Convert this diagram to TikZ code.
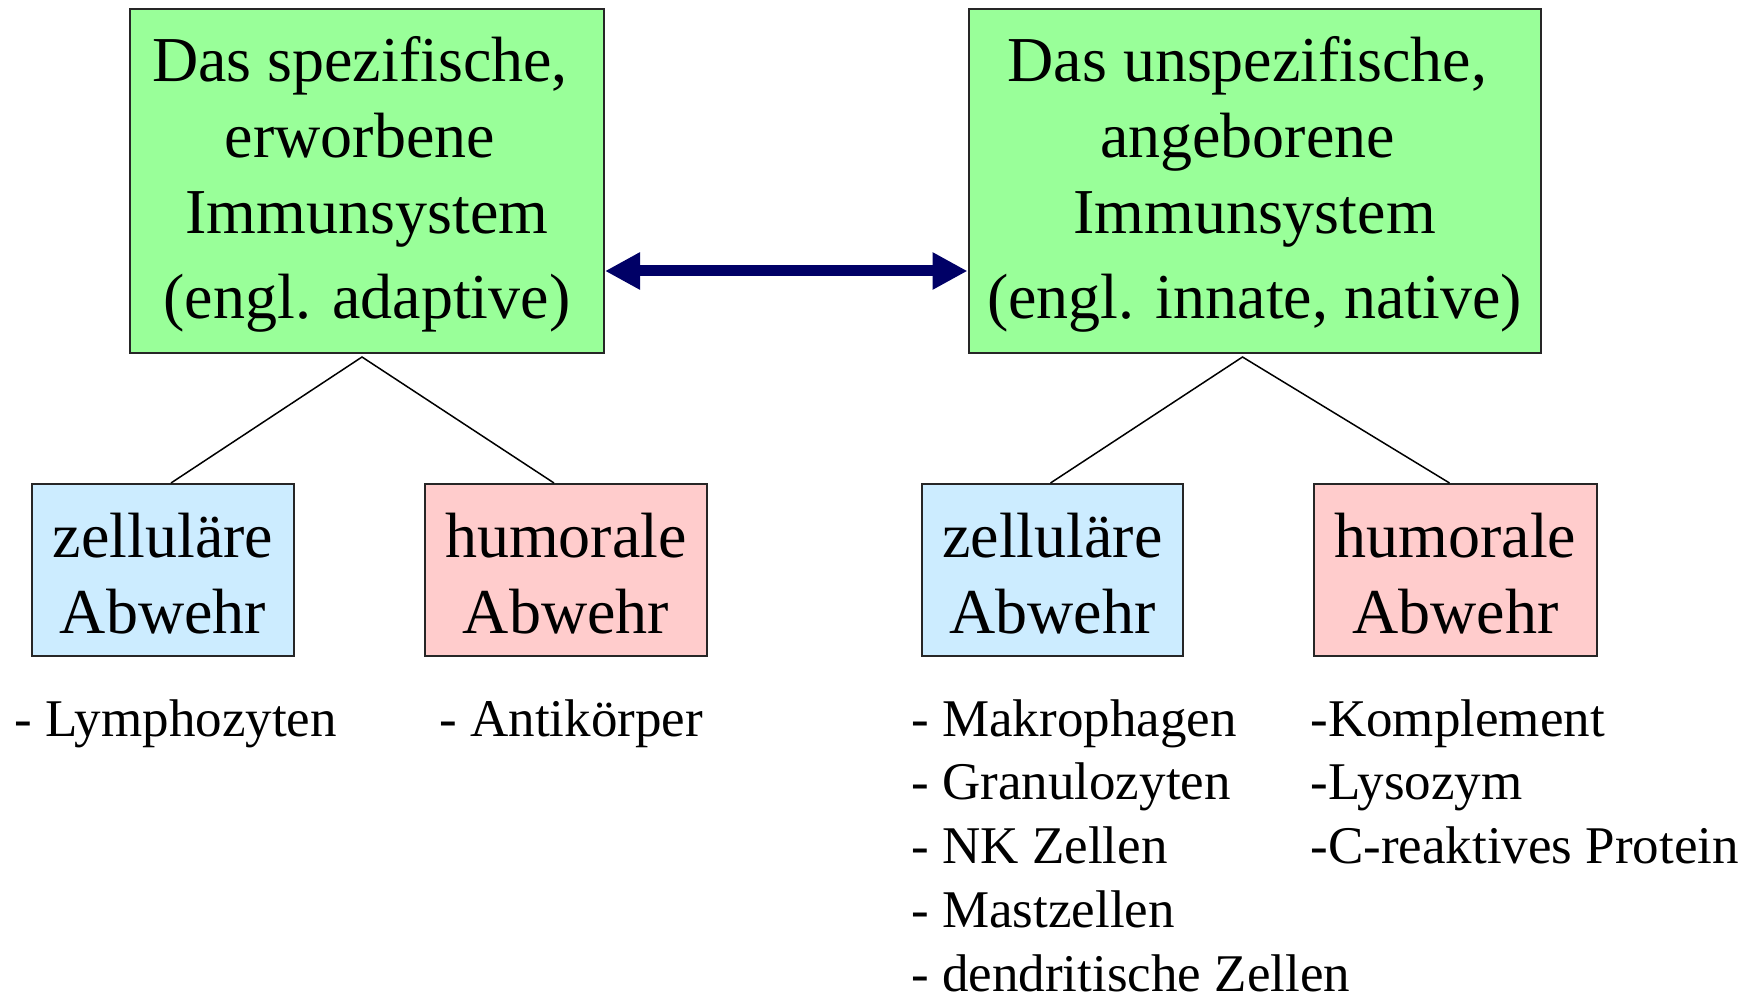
\documentclass[tikz,border=0pt]{standalone}
\usepackage{fontspec}
\setmainfont{Liberation Serif}
\usetikzlibrary{arrows.meta}
\definecolor{boxgreen}{HTML}{99FF99}
\definecolor{boxblue}{HTML}{CCECFF}
\definecolor{boxpink}{HTML}{FFCCCC}
\definecolor{arrownavy}{HTML}{000066}
\newcommand{\toppad}[1]{\rule{0pt}{#1}}
\newcommand{\trailpad}{\rule{7pt}{0pt}}
\tikzset{
  bigbox/.style={draw=black!85, line width=1pt, fill=boxgreen, inner sep=0pt,
    minimum height=172pt, align=center, font=\fontsize{32pt}{38pt}\selectfont},
  smallbox/.style={draw=black!85, line width=1pt, inner sep=0pt,
    minimum height=86pt, align=center, font=\fontsize{32pt}{38pt}\selectfont},
  listtext/.style={inner sep=0pt, anchor=north west, align=left,
    font=\fontsize{26.5pt}{31.9pt}\selectfont},
  branch/.style={draw=black, line width=0.75pt},
  linkarrow/.style={draw=arrownavy, line width=5.5pt,
    {Triangle[length=17.5pt,width=17.5pt]}-{Triangle[length=17.5pt,width=17.5pt]}}
}
\begin{document}
\begin{tikzpicture}[x=0.5pt, y=-0.5pt]
\useasboundingbox (0,0) rectangle (1754,994);
% top boxes
\node[bigbox, minimum width=237pt] (L) at (367,181)
  {\toppad{26pt}Das spezifische,\trailpad\\ erworbene\trailpad\\ Immunsystem\\[4.5pt] (engl. adaptive)};
\node[bigbox, minimum width=286pt] (R) at (1254.5,181)
  {\toppad{26pt}Das unspezifische,\trailpad\\ angeborene\trailpad\\ Immunsystem\\[4.5pt] (engl. innate, native)};
% lower boxes
\node[smallbox, fill=boxblue, minimum width=131pt] (zl) at (163,570) {\toppad{26pt}zelluläre\\ Abwehr};
\node[smallbox, fill=boxpink, minimum width=141pt] (hl) at (566,570) {\toppad{26pt}humorale\\ Abwehr};
\node[smallbox, fill=boxblue, minimum width=130.5pt] (zr) at (1052.5,570) {\toppad{26pt}zelluläre\\ Abwehr};
\node[smallbox, fill=boxpink, minimum width=141.5pt] (hr) at (1455.5,570) {\toppad{26pt}humorale\\ Abwehr};
% connectors
\draw[linkarrow] ([yshift=-45pt]L.east) -- ([yshift=-45pt]R.west);
\draw[branch] ([xshift=4pt]zl.north) -- ([xshift=-2.5pt,yshift=-1.5pt]L.south) -- ([xshift=-6pt]hl.north);
\draw[branch] ([xshift=-1pt]zr.north) -- ([xshift=-6pt,yshift=-1.5pt]R.south) -- ([xshift=-3pt]hr.north);
% lists
\node[listtext] (ll) at (14,699) {- Lymphozyten};
\node[listtext] (la) at (439,699) {- Antikörper};
\node[listtext] (rl) at (911,699) {- Makrophagen\\- Granulozyten\\- NK Zellen\\- Mastzellen\\- dendritische Zellen};
\node[listtext] (rh) at (1310,699) {-Komplement\\-Lysozym\\-C-reaktives Protein};
\end{tikzpicture}
\end{document}
